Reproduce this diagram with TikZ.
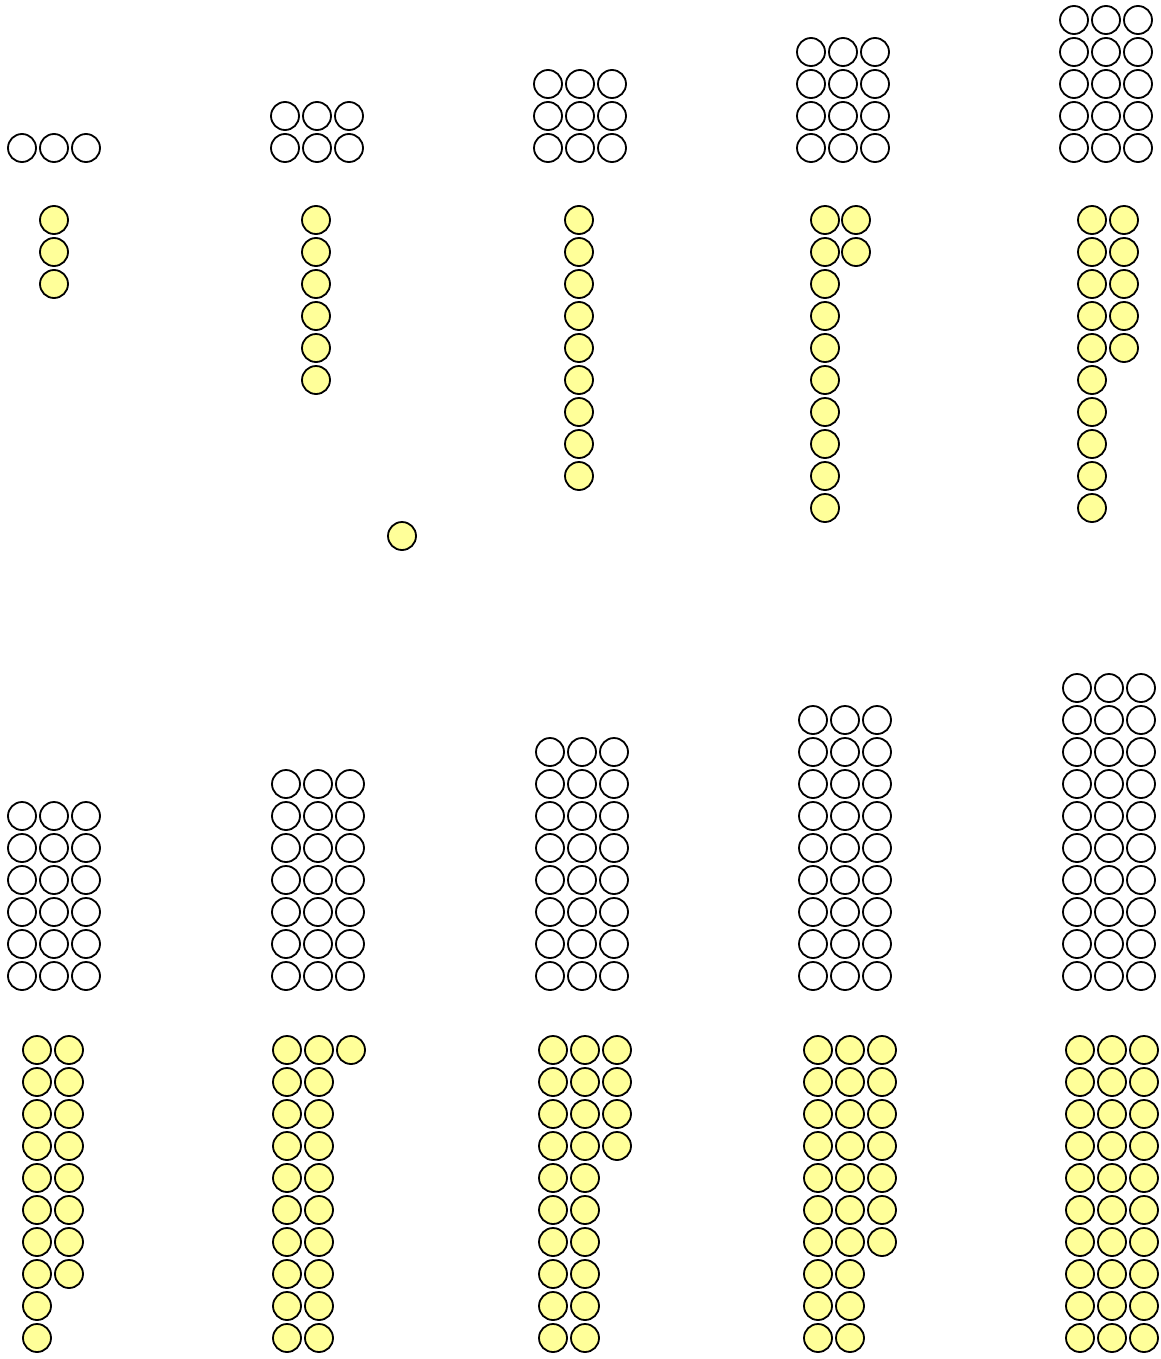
\documentclass[tikz,border=0pt]{standalone}
\usepackage{tikz}
\definecolor{ballyellow}{RGB}{255,255,153}

\begin{document}
\begin{tikzpicture}[x=0.25mm, y=-0.25mm,
    empty/.style={draw, line width=0.45mm, fill=white},
    ball/.style={draw, line width=0.45mm, fill=ballyellow}
]
\useasboundingbox (0,0) rectangle (1160,1359);

% Top row: white blocks (3 columns, n rows)
\foreach \x/\n in {22/1, 285/2, 548/3, 811/4, 1074/5} {
  \foreach \c in {0,1,2} {
    \foreach \r in {1,...,\n} {
      \draw[empty] (\x+32*\c, 180-32*\r) circle[radius=3.5mm];
    }
  }
}

% Top row: yellow columns
\foreach \x/\n in {54/3, 316/6, 579/9, 825/10, 856/2, 1092/10, 1124/5} {
  \foreach \r in {1,...,\n} {
    \draw[ball] (\x, 188+32*\r) circle[radius=3.5mm];
  }
}

% Single ball
\draw[ball] (402,536) circle[radius=3.5mm];

% Bottom row: white blocks
\foreach \x/\n in {22/6, 286/7, 550/8, 813/9, 1077/10} {
  \foreach \c in {0,1,2} {
    \foreach \r in {1,...,\n} {
      \draw[empty] (\x+32*\c, 1008-32*\r) circle[radius=3.5mm];
    }
  }
}

% Bottom row: yellow columns
\foreach \x/\n in {37/10, 69/8, 287/10, 319/10, 351/1, 553/10, 585/10, 617/4,
                   818/10, 850/10, 882/7, 1080/10, 1112/10, 1144/10} {
  \foreach \r in {1,...,\n} {
    \draw[ball] (\x, 1018+32*\r) circle[radius=3.5mm];
  }
}

\end{tikzpicture}
\end{document}
